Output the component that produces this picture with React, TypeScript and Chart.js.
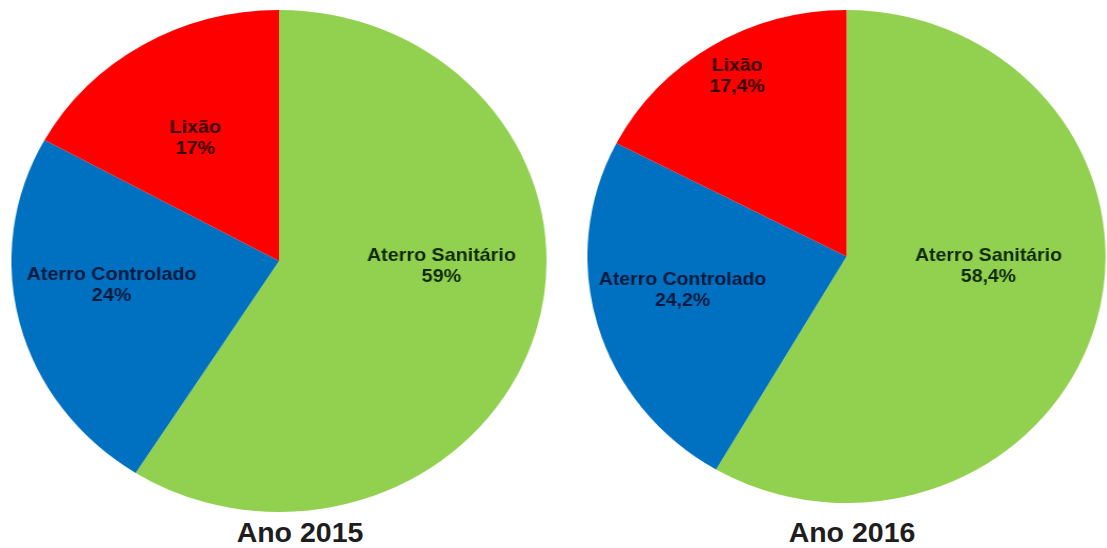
import React, { useEffect, useRef } from "react";
import { Chart, registerables } from "chart.js";

Chart.register(...registerables);

// ---- Data ----
const CATEGORIES = ["Aterro Sanitário", "Aterro Controlado", "Lixão"];
const VALUES_2015 = [59, 24, 17];
const VALUES_2016 = [58.4, 24.2, 17.4];
const YEAR_TITLES = ["Ano 2015", "Ano 2016"];

// ---- Styles ----
const SLICE_COLORS = ["#92D050", "#0070C0", "#FF0000"];
const LABEL_COLORS = ["#0f2a0a", "#0a1a3c", "#2e0000"];
const FONT = '"Liberation Sans", Arial, Helvetica, sans-serif';
const LABEL_FONT_SIZE = 18.5;
const LINE_GAP = 21;

// label placement (relative to pie centre, in units of radius)
const OFFSETS_2015 = [
  [0.607, 0.02],
  [-0.626, 0.096],
  [-0.312, -0.49],
];
const OFFSETS_2016 = [
  [0.548, 0.039],
  [-0.633, 0.138],
  [-0.421, -0.732],
];

// pie boxes: centre (cx, cy), radius r, horizontal stretch sx
const BOX_2015 = { cx: 278.5, cy: 261, r: 251, sx: 1.066 };
const BOX_2016 = { cx: 846, cy: 256.5, r: 246.5, sx: 1.051 };

const fmt = (v: number) => String(v).replace(".", ",") + "%";

function PieChart({ values, offsets, box }: { values: number[]; offsets: number[][]; box: any }) {
  const ref = useRef<HTMLCanvasElement>(null);
  useEffect(() => {
    const labelPlugin = {
      id: "sliceLabels",
      afterDatasetsDraw(chart: any) {
        const ctx = chart.ctx;
        const meta = chart.getDatasetMeta(0);
        ctx.save();
        ctx.font = `bold ${LABEL_FONT_SIZE}px ${FONT}`;
        ctx.textAlign = "center";
        ctx.textBaseline = "middle";
        meta.data.forEach((arc: any, i: number) => {
          const { x, y, outerRadius } = arc.getProps(["x", "y", "outerRadius"], true);
          const lx = x + offsets[i][0] * outerRadius;
          const ly = y + offsets[i][1] * outerRadius;
          ctx.fillStyle = LABEL_COLORS[i];
          ctx.fillText(CATEGORIES[i], lx, ly - LINE_GAP / 2);
          ctx.fillText(fmt(values[i]), lx, ly + LINE_GAP / 2);
        });
        ctx.restore();
      },
    };
    const chart = new Chart(ref.current as HTMLCanvasElement, {
      type: "pie",
      data: {
        labels: CATEGORIES,
        datasets: [
          {
            data: values,
            backgroundColor: SLICE_COLORS,
            borderWidth: 0,
            hoverBorderWidth: 0,
            hoverOffset: 0,
          },
        ],
      },
      options: {
        responsive: true,
        maintainAspectRatio: false,
        animation: false,
        events: [],
        layout: { padding: 0 },
        plugins: { legend: { display: false }, tooltip: { enabled: false } },
      },
      plugins: [labelPlugin],
    } as any);
    return () => chart.destroy();
  }, []);
  return (
    <div
      style={{
        position: "absolute",
        left: box.cx - box.r,
        top: box.cy - box.r,
        width: box.r * 2,
        height: box.r * 2,
        transform: `scaleX(${box.sx})`,
        transformOrigin: "center center",
      }}
    >
      <canvas ref={ref} />
    </div>
  );
}

function Title({ text, cx }: { text: string; cx: number }) {
  return (
    <div
      style={{
        position: "absolute",
        left: cx - 120,
        top: 518,
        width: 240,
        textAlign: "center",
        font: `bold 28.5px ${FONT}`,
        lineHeight: "28px",
        color: "#1e1e1e",
        whiteSpace: "nowrap",
      }}
    >
      {text}
    </div>
  );
}

export default function App() {
  return (
    <div
      style={{
        position: "absolute",
        left: 0,
        top: 0,
        width: 1107,
        height: 548,
        background: "#ffffff",
        overflow: "hidden",
      }}
    >
      <PieChart values={VALUES_2015} offsets={OFFSETS_2015} box={BOX_2015} />
      <PieChart values={VALUES_2016} offsets={OFFSETS_2016} box={BOX_2016} />
      <Title text={YEAR_TITLES[0]} cx={300} />
      <Title text={YEAR_TITLES[1]} cx={852} />
    </div>
  );
}
